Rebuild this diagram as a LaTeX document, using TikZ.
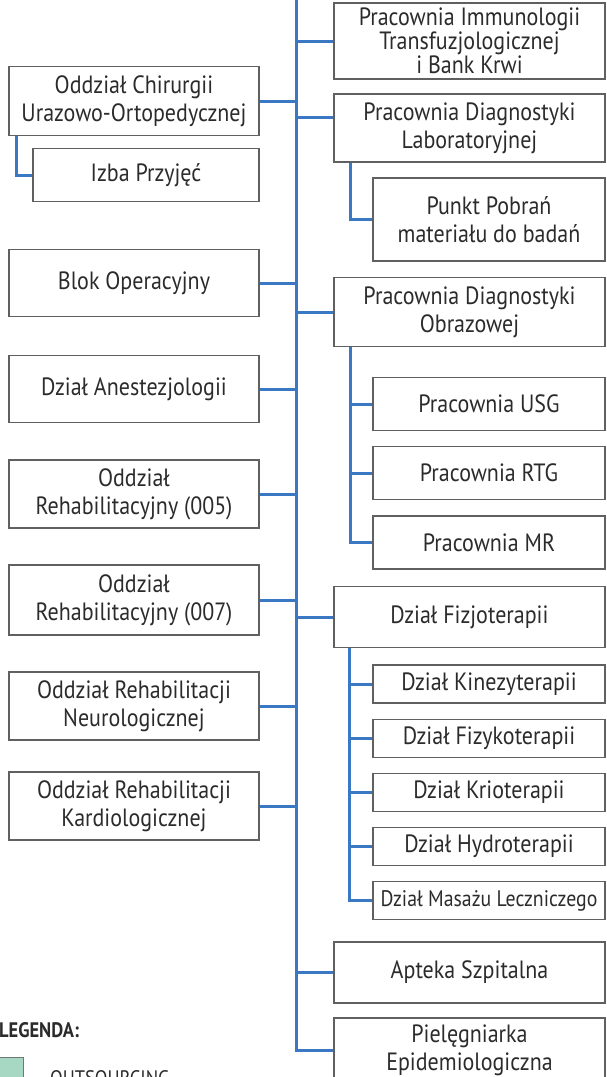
\documentclass[tikz,border=0pt]{standalone}
\usepackage{fontspec}
\setmainfont{PT Sans}[FakeStretch=0.88]
\usetikzlibrary{positioning}
\definecolor{linkblue}{HTML}{3A78C4}
\definecolor{boxgray}{HTML}{606060}
\definecolor{textgray}{HTML}{2B2B2B}
\definecolor{mint}{HTML}{A6D8C4}

\begin{document}
\begin{tikzpicture}[x=1pt, y=-1pt, node distance=15pt,
  box/.style={draw=boxgray, line width=1.2pt, rectangle, align=center,
    text=textgray, inner sep=0pt, font=\fontsize{25}{28}\selectfont},
  left box/.style={box, minimum width=250pt, minimum height=68pt},
  main box/.style={box, minimum width=271pt},
  sub box/.style={box, minimum width=232pt},
  link/.style={draw=linkblue, line width=3pt}]

\useasboundingbox (0,0) rectangle (607,1077);

% left column
\node[left box, minimum height=69pt] (chir) at (134,101) {Oddział Chirurgii\\Urazowo-Ortopedycznej};
\node[box, minimum width=226pt, minimum height=53pt] (izba) at (146,175) {Izba Przyjęć};
\node[left box, minimum height=67pt] (blok) at (134,283) {Blok Operacyjny};
\node[left box, minimum height=67pt] (anest) at (134,389) {Dział Anestezjologii};
\node[left box] (reh5) at (134,494) {Oddział\\Rehabilitacyjny (005)};
\node[left box, minimum height=70pt] (reh7) at (134,600) {Oddział\\Rehabilitacyjny (007)};
\node[left box] (neuro) at (134,706) {Oddział Rehabilitacji\\Neurologicznej};
\node[left box] (kardio) at (134,806) {Oddział Rehabilitacji\\Kardiologicznej};

% right column
\node[main box, minimum height=76pt, font=\fontsize{25}{24}\selectfont] (imm) at (469.5,41) {Pracownia Immunologii\\Transfuzjologicznej\\i Bank Krwi};
\node[main box, minimum height=68pt] (lab) at (469.5,128) {Pracownia Diagnostyki\\Laboratoryjnej};
\node[sub box, minimum height=83pt] (punkt) at (489,219.5) {Punkt Pobrań\\materiału do badań};
\node[main box, minimum height=69pt] (obraz) at (469.5,312) {Pracownia Diagnostyki\\Obrazowej};
\node[sub box, minimum height=53pt] (usg) at (489,404) {Pracownia USG};
\node[sub box, minimum height=53pt] (rtg) [below=of usg] {Pracownia RTG};
\node[sub box, minimum height=53pt] (mr) [below=of rtg] {Pracownia MR};
\node[main box, minimum height=61pt] (fizjo) at (469.5,617) {Dział Fizjoterapii};
\node[sub box, minimum height=38pt] (kinez) at (489,684) {Dział Kinezyterapii};
\node[sub box, minimum height=38pt] (fizyk) [below=of kinez] {Dział Fizykoterapii};
\node[sub box, minimum height=38pt] (krio) [below=of fizyk] {Dział Krioterapii};
\node[sub box, minimum height=38pt] (hydro) [below=of krio] {Dział Hydroterapii};
\node[sub box, minimum height=38pt, font=\fontsize{22.5}{26}\selectfont] (masaz) [below=of hydro] {Dział Masażu Leczniczego};
\node[main box, minimum height=61pt] (apteka) at (469.5,972.5) {Apteka Szpitalna};
\node[main box, minimum height=64pt] (piel) at (469.5,1050) {Pielęgniarka\\Epidemiologiczna};

% legend
\node[anchor=base west, inner sep=0pt, text=textgray, font=\bfseries\fontsize{21}{24}\selectfont] (legenda) at (-1,1037) {LEGENDA:};
\node[draw=boxgray!80!mint, fill=mint, line width=1.2pt, minimum width=34pt, minimum height=34pt, anchor=north east] (outsq) at (24,1057) {};
\node[anchor=base west, inner sep=0pt, text=textgray, font=\fontsize{21}{24}\selectfont] (outtxt) at (50,1085) {OUTSOURCING};

% connectors
\coordinate (top) at (296,0);
\draw[link] (top) |- (piel.west);
\draw[link] (imm.west) -- (imm.west -| top);
\draw[link] ([yshift=11pt]lab.west) -- ++(-38,0);
\draw[link] (obraz.west) -- (obraz.west -| top);
\draw[link] (fizjo.west) -- (fizjo.west -| top);
\draw[link] (apteka.west) -- (apteka.west -| top);
\foreach \n in {chir,blok,anest,reh5,reh7,neuro,kardio}
  \draw[link] (\n.east) -- (\n.east -| top);

\draw[link] ([xshift=8pt]chir.south west) |- (izba.west);
\draw[link] ([xshift=17pt]lab.south west) |- (punkt.west);
\draw[link] ([xshift=17pt]obraz.south west) |- (mr.west);
\foreach \n in {usg,rtg}
  \draw[link] (\n.west) -- ++(-22,0);
\draw[link] ([xshift=16pt]fizjo.south west) |- (masaz.west);
\foreach \n in {kinez,fizyk,krio,hydro}
  \draw[link] (\n.west) -- ++(-22,0);

\end{tikzpicture}
\end{document}
